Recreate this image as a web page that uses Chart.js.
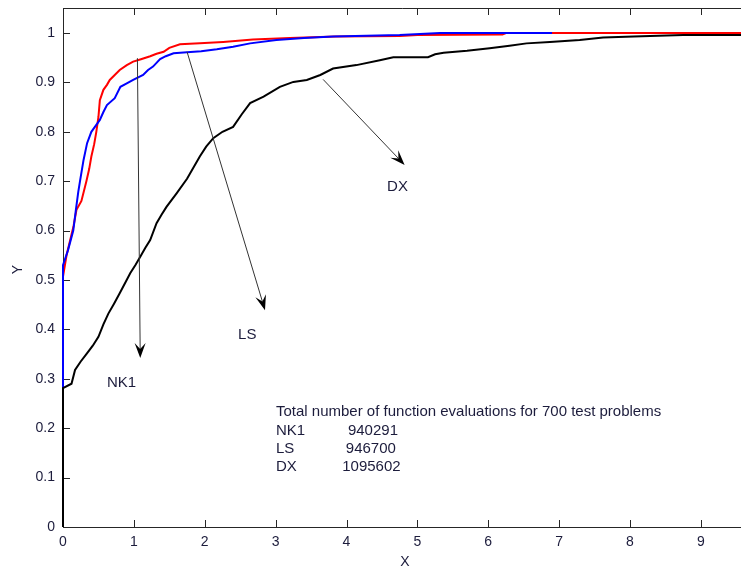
<!DOCTYPE html>
<html>
<head>
<meta charset="utf-8">
<script src="https://cdn.jsdelivr.net/npm/chart.js@4.4.1/dist/chart.umd.min.js"></script>
<style>
  body { margin: 0; background: #fff; }
  #wrap { width: 741px; height: 569px; }
</style>
</head>
<body>
<div id="wrap"><canvas id="profileChart" width="741" height="569"></canvas></div>
<script>
// tick values
const xTicks = [0, 1, 2, 3, 4, 5, 6, 7, 8, 9];
const yTicks = [0, 0.1, 0.2, 0.3, 0.4, 0.5, 0.6, 0.7, 0.8, 0.9, 1];

// NK1 (red)
const nk1X = [0, 0, 0.05, 0.1, 0.15, 0.19, 0.26, 0.33, 0.37, 0.40, 0.44, 0.47, 0.50, 0.52, 0.57, 0.62, 0.66, 0.73, 0.80, 0.90, 0.99, 1.10, 1.23, 1.32, 1.42, 1.50, 1.65, 1.93, 2.26, 2.68, 3.20, 3.85, 4.75, 5.00, 6.20, 6.25, 9.60];
const nk1Y = [0, 0.507, 0.55, 0.58, 0.61, 0.642, 0.66, 0.70, 0.725, 0.75, 0.775, 0.80, 0.83, 0.864, 0.885, 0.895, 0.905, 0.915, 0.925, 0.935, 0.942, 0.947, 0.953, 0.958, 0.962, 0.970, 0.977, 0.979, 0.982, 0.987, 0.990, 0.993, 0.994, 0.996, 0.997, 1.0, 1.0];

// LS (blue)
const lsX = [0, 0, 0.07, 0.145, 0.18, 0.216, 0.24, 0.29, 0.34, 0.40, 0.46, 0.52, 0.57, 0.62, 0.73, 0.81, 0.90, 0.99, 1.13, 1.20, 1.27, 1.37, 1.45, 1.56, 1.75, 1.95, 2.17, 2.40, 2.64, 3.01, 3.40, 3.81, 4.75, 5.32, 6.90];
const lsY = [0, 0.53, 0.56, 0.60, 0.64, 0.679, 0.70, 0.743, 0.777, 0.80, 0.812, 0.824, 0.84, 0.854, 0.868, 0.891, 0.898, 0.905, 0.915, 0.925, 0.932, 0.947, 0.953, 0.959, 0.961, 0.963, 0.967, 0.972, 0.979, 0.986, 0.990, 0.993, 0.996, 1.0, 1.0];

// DX (black)
const dxX = [0, 0, 0.12, 0.17, 0.25, 0.33, 0.42, 0.50, 0.57, 0.64, 0.72, 0.80, 0.88, 0.95, 1.02, 1.09, 1.16, 1.23, 1.32, 1.39, 1.46, 1.60, 1.75, 1.93, 2.02, 2.12, 2.25, 2.40, 2.52, 2.64, 2.83, 3.06, 3.25, 3.44, 3.63, 3.81, 4.14, 4.47, 4.66, 5.15, 5.25, 5.37, 5.70, 6.02, 6.30, 6.54, 6.87, 7.29, 7.62, 8.05, 8.75, 9.60];
const dxY = [0, 0.281, 0.29, 0.318, 0.335, 0.35, 0.367, 0.385, 0.41, 0.432, 0.452, 0.473, 0.495, 0.514, 0.53, 0.547, 0.565, 0.581, 0.615, 0.632, 0.648, 0.675, 0.705, 0.75, 0.77, 0.787, 0.80, 0.81, 0.835, 0.858, 0.871, 0.891, 0.901, 0.905, 0.915, 0.928, 0.935, 0.945, 0.951, 0.951, 0.957, 0.960, 0.964, 0.969, 0.974, 0.979, 0.982, 0.986, 0.991, 0.993, 0.996, 0.996];

// arrow annotations (data coords)
const arrowNames = ['NK1', 'LS', 'DX'];
const arrowFrom = [[1.05, 0.949], [1.75, 0.962], [3.67, 0.906]];
const arrowTo = [[1.09, 0.342], [2.85, 0.439], [4.82, 0.733]];
const arrowLabelAt = [[0.825, 0.2935], [2.60, 0.391], [4.72, 0.690]];

// evaluation totals box
const boxTitle = 'Total number of function evaluations for 700 test problems';
const boxNames = ['NK1', 'LS', 'DX'];
const boxValues = ['940291', '946700', '1095602'];
const boxNameX = 3.005;
const boxValueX = [4.02, 3.99, 3.94];
const boxRowY = [0.2348, 0.1964, 0.160, 0.1235];

const TEXT = '#1c1c3c';
const TICK_FAMILY = '"Liberation Sans Narrow", "Liberation Sans", Arial, sans-serif';
const TICK_FONT = '14px ' + TICK_FAMILY;
const NOTE_FONT = '15px "Liberation Sans", Arial, sans-serif';

const toPoints = (xs, ys) => xs.map((x, i) => ({ x: x, y: ys[i] }));

// axes box, inward ticks, titles
const axesPlugin = {
  id: 'axesBox',
  beforeDatasetsDraw(chart) {
    const { ctx, chartArea: a, scales: { x, y } } = chart;
    ctx.save();
    ctx.strokeStyle = '#262626';
    ctx.lineWidth = 1;
    ctx.beginPath();
    ctx.moveTo(a.left + 0.5, a.bottom + 0.5);
    ctx.lineTo(a.left + 0.5, a.top + 0.5);
    ctx.lineTo(a.right, a.top + 0.5);
    ctx.moveTo(a.left, a.bottom + 0.5);
    ctx.lineTo(a.right, a.bottom + 0.5);
    xTicks.forEach((v) => {
      const px = Math.round(x.getPixelForValue(v)) + 0.5;
      ctx.moveTo(px, a.bottom);
      ctx.lineTo(px, a.bottom - 7);
      ctx.moveTo(px, a.top);
      ctx.lineTo(px, a.top + 7);
    });
    yTicks.forEach((v) => {
      const py = Math.round(y.getPixelForValue(v)) + 0.5;
      ctx.moveTo(a.left, py);
      ctx.lineTo(a.left + 7, py);
    });
    ctx.stroke();

    ctx.fillStyle = TEXT;
    ctx.font = TICK_FONT;
    ctx.textAlign = 'center';
    ctx.textBaseline = 'middle';
    ctx.fillText('X', (a.left + a.right) / 2 + 3, 562);
    ctx.translate(18, (a.top + a.bottom) / 2 + 2);
    ctx.rotate(-Math.PI / 2);
    ctx.fillText('Y', 0, 0);
    ctx.restore();
  },
  afterDatasetsDraw(chart) {
    const { ctx, scales: { x, y } } = chart;
    ctx.save();
    // arrows
    arrowFrom.forEach((f, i) => {
      const x0 = x.getPixelForValue(f[0]), y0 = y.getPixelForValue(f[1]);
      const x1 = x.getPixelForValue(arrowTo[i][0]), y1 = y.getPixelForValue(arrowTo[i][1]);
      const len = Math.hypot(x1 - x0, y1 - y0);
      const ux = (x1 - x0) / len, uy = (y1 - y0) / len;
      const L = 15, W = 5.5;
      ctx.strokeStyle = '#333';
      ctx.lineWidth = 1;
      ctx.beginPath();
      ctx.moveTo(x0, y0);
      ctx.lineTo(x1 - ux * L * 0.6, y1 - uy * L * 0.6);
      ctx.stroke();
      ctx.fillStyle = '#000';
      ctx.beginPath();
      ctx.moveTo(x1, y1);
      ctx.lineTo(x1 - ux * L - uy * W, y1 - uy * L + ux * W);
      ctx.lineTo(x1 - ux * L * 0.6, y1 - uy * L * 0.6);
      ctx.lineTo(x1 - ux * L + uy * W, y1 - uy * L - ux * W);
      ctx.closePath();
      ctx.fill();
      // label
      ctx.fillStyle = TEXT;
      ctx.font = NOTE_FONT;
      ctx.textAlign = 'center';
      ctx.textBaseline = 'middle';
      ctx.fillText(arrowNames[i], x.getPixelForValue(arrowLabelAt[i][0]), y.getPixelForValue(arrowLabelAt[i][1]) + 1);
    });
    // totals box
    ctx.fillStyle = TEXT;
    ctx.font = NOTE_FONT;
    ctx.textAlign = 'left';
    ctx.textBaseline = 'middle';
    ctx.fillText(boxTitle, x.getPixelForValue(boxNameX), y.getPixelForValue(boxRowY[0]) + 1);
    boxNames.forEach((n, i) => {
      const py = y.getPixelForValue(boxRowY[i + 1]) + 1;
      ctx.fillText(n, x.getPixelForValue(boxNameX), py);
      ctx.fillText(boxValues[i], x.getPixelForValue(boxValueX[i]), py);
    });
    ctx.restore();
  }
};

const lineSet = (label, pts, color) => ({
  label: label,
  data: pts,
  borderColor: color,
  backgroundColor: color,
  borderWidth: 2,
  pointRadius: 0,
  showLine: true,
  fill: false,
  tension: 0,
  clip: false
});

const config = {
  type: 'scatter',
  data: {
    // first dataset is painted last (on top)
    datasets: [
      lineSet('DX', toPoints(dxX, dxY), '#000000'),
      lineSet('LS', toPoints(lsX, lsY), '#0000ff'),
      lineSet('NK1', toPoints(nk1X, nk1Y), '#ff0000')
    ]
  },
  options: {
    responsive: false,
    devicePixelRatio: 1,
    animation: false,
    events: [],
    layout: { padding: { top: 8, left: 0, right: 0, bottom: 0 } },
    plugins: {
      legend: { display: false },
      tooltip: { enabled: false },
      title: { display: false }
    },
    scales: {
      x: {
        type: 'linear',
        min: 0,
        max: 9.566,
        grid: { display: false, drawTicks: false },
        border: { display: false },
        afterBuildTicks: (s) => { s.ticks = xTicks.map((v) => ({ value: v })); },
        afterFit: (s) => { s.height = 42; s.paddingLeft = 0; s.paddingRight = 0; },
        ticks: {
          color: TEXT,
          padding: 7,
          maxRotation: 0,
          autoSkip: false,
          font: { family: TICK_FAMILY, size: 14 },
          callback: (v) => String(v)
        }
      },
      y: {
        type: 'linear',
        min: 0,
        max: 1.0506,
        grid: { display: false, drawTicks: false },
        border: { display: false },
        afterBuildTicks: (s) => { s.ticks = yTicks.map((v) => ({ value: v })); },
        afterFit: (s) => { s.width = 63; s.paddingTop = 0; s.paddingBottom = 0; },
        ticks: {
          color: TEXT,
          padding: 8,
          autoSkip: false,
          font: { family: TICK_FAMILY, size: 14 },
          callback: (v) => String(Math.round(v * 10) / 10)
        }
      }
    }
  },
  plugins: [axesPlugin]
};

new Chart(document.getElementById('profileChart'), config);
</script>
</body>
</html>
